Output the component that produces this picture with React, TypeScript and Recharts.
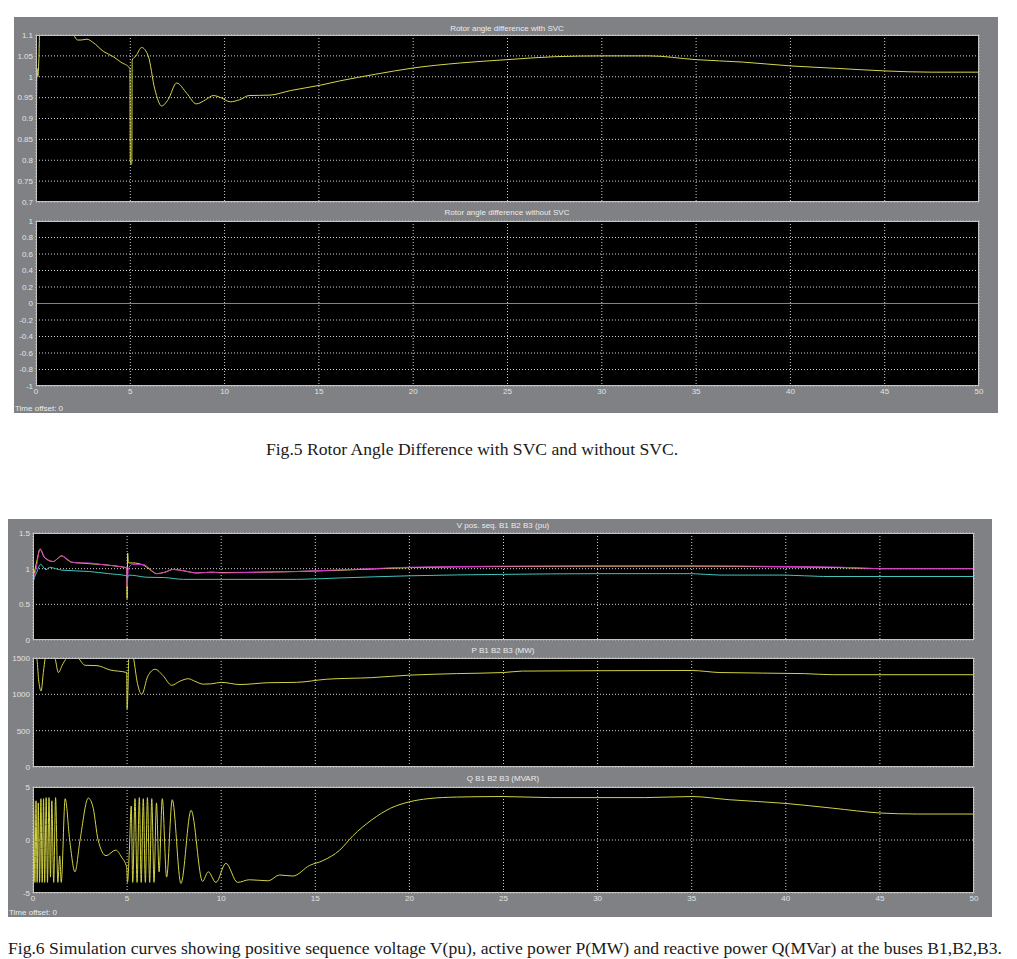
import React from 'react';
import { LineChart, Line, XAxis, YAxis, CartesianGrid } from 'recharts';

// ---------- shared ----------
const timeTicks = [0, 5, 10, 15, 20, 25, 30, 35, 40, 45, 50];

// ---------- Fig.5: rotor angle difference with SVC ----------
const svcT = [0, 0.02, 0.05, 0.1, 0.15, 0.2, 0.6, 1.2, 1.7, 2.0, 2.2, 2.4, 2.7, 3.0, 3.6, 4.1, 4.5, 4.98, 5.0, 5.05, 5.08, 5.1, 5.3, 5.6, 5.95, 6.3, 6.66, 7.0, 7.46, 8.0, 8.5, 9.0, 9.4, 9.8, 10.3, 10.8, 11.3, 12.4, 13.5, 15.1, 16.1, 18, 20, 22.5, 25, 27.5, 30, 32.5, 35, 37.5, 40, 42.5, 45, 47.5, 50];
const svcV = [1.0, 0.91, 1.02, 1.0, 1.04, 1.12, 1.14, 1.13, 1.12, 1.1, 1.088, 1.088, 1.09, 1.083, 1.06, 1.048, 1.035, 1.02, 0.8, 0.79, 0.795, 1.04, 1.05, 1.07, 1.05, 0.97, 0.93, 0.945, 0.985, 0.96, 0.935, 0.945, 0.955, 0.95, 0.94, 0.945, 0.955, 0.956, 0.967, 0.98, 0.99, 1.006, 1.021, 1.033, 1.041, 1.048, 1.05, 1.05, 1.041, 1.035, 1.026, 1.02, 1.014, 1.011, 1.011];
const svcYTicks = [0.7, 0.75, 0.8, 0.85, 0.9, 0.95, 1, 1.05, 1.1];

// ---------- Fig.5: without SVC ----------
const noSvcT = [0, 50];
const noSvcV = [0, 0];
const noSvcYTicks = [-1, -0.8, -0.6, -0.4, -0.2, 0, 0.2, 0.4, 0.6, 0.8, 1];

// ---------- Fig.6: V pos. seq. ----------
const vT = [0, 0.2, 0.37, 0.6, 0.8, 1.08, 1.3, 1.52, 1.8, 2.06, 2.5, 3.0, 3.56, 4.3, 4.98, 5.0, 5.03, 5.06, 5.1, 5.3, 5.86, 6.2, 6.57, 7.0, 7.46, 8.0, 8.7, 9.5, 10, 12, 14, 16, 18, 20, 25, 30, 35, 40, 43, 45, 50];
const vB1 = [0.85, 1.1, 1.27, 1.16, 1.12, 1.1, 1.14, 1.18, 1.13, 1.09, 1.08, 1.07, 1.06, 1.04, 1.01, 0.58, 1.22, 1.1, 1.08, 1.08, 1.05, 0.99, 0.93, 0.95, 0.99, 0.97, 0.94, 0.95, 0.945, 0.95, 0.96, 0.975, 0.995, 1.015, 1.03, 1.035, 1.035, 1.025, 1.015, 1.0, 1.0];
const vB2 = [0.8, 1.05, 1.28, 1.17, 1.12, 1.1, 1.14, 1.18, 1.14, 1.09, 1.08, 1.08, 1.06, 1.04, 1.01, 0.75, 0.85, 0.98, 1.02, 1.06, 1.06, 1.0, 0.93, 0.95, 0.99, 0.97, 0.94, 0.95, 0.94, 0.95, 0.96, 0.98, 1.0, 1.02, 1.035, 1.04, 1.04, 1.03, 1.02, 1.0, 1.0];
const vB3T = [0, 0.01, 0.2, 0.4, 0.69, 0.89, 1.2, 1.5, 3.0, 4.0, 4.98, 5.0, 5.1, 5.5, 6.0, 7.0, 8.0, 10, 14, 16.3, 20, 25, 30, 35, 36.5, 40, 42, 50];
const vB3 = [0, 0.8, 0.95, 1.06, 0.985, 1.02, 1.0, 0.98, 0.96, 0.93, 0.9, 0.87, 0.91, 0.9, 0.88, 0.875, 0.85, 0.85, 0.85, 0.87, 0.9, 0.92, 0.93, 0.93, 0.91, 0.91, 0.89, 0.89];
const vYTicks = [0, 0.5, 1, 1.5];

// ---------- Fig.6: P ----------
const pT = [0, 0.01, 0.1, 0.2, 0.3, 0.43, 0.55, 0.65, 0.8, 1.0, 1.17, 1.35, 1.55, 1.79, 2.1, 2.4, 2.77, 3.4, 4.1, 4.98, 5.0, 5.05, 5.1, 5.25, 5.34, 5.55, 5.78, 6.1, 6.49, 6.9, 7.37, 7.8, 8.25, 8.6, 9.05, 9.5, 10, 11, 12.5, 14, 15.6, 18, 20, 22.5, 25, 26, 30, 35, 36.5, 41, 42.5, 50];
const pV = [0, 1500, 1550, 1500, 1200, 1045, 1300, 1500, 1600, 1600, 1500, 1300, 1400, 1500, 1550, 1500, 1400, 1395, 1335, 1300, 800, 1100, 1600, 1600, 1500, 1150, 1000, 1250, 1345, 1260, 1125, 1180, 1215, 1180, 1140, 1145, 1165, 1135, 1160, 1165, 1208, 1230, 1264, 1285, 1300, 1320, 1325, 1328, 1300, 1285, 1270, 1270];
const pYTicks = [0, 500, 1000, 1500];

// ---------- Fig.6: Q ----------
const qT = [0, 0.03, 0.1, 0.16, 0.22, 0.28, 0.35, 0.42, 0.49, 0.56, 0.62, 0.7, 0.77, 0.85, 0.93, 1.0, 1.1, 1.2, 1.32, 1.42, 1.5, 1.71, 1.95, 2.23, 2.5, 2.94, 3.2, 3.46, 3.88, 4.4, 4.7, 4.98, 5.02, 5.12, 5.22, 5.3, 5.42, 5.53, 5.65, 5.75, 5.86, 5.97, 6.08, 6.2, 6.31, 6.43, 6.56, 6.7, 6.87, 7.1, 7.4, 7.86, 8.4, 9.01, 9.31, 9.72, 10.25, 10.87, 11.5, 12.5, 13.1, 13.8, 14.7, 15.4, 16.3, 17, 18, 19, 20, 21, 22.5, 25, 27.5, 30, 32.5, 35, 37, 40, 42.5, 45, 47, 50];
const qV = [0, 3.8, -4, 3.7, -4, 3.5, -4, 3.9, -4, 3.9, -4, 4, -4, 4, -3.5, 3.7, -4, 4, -4, -1.5, -4, 3.9, 0, -3, 0, 3.96, 3, 0, -1.48, -0.95, -1.6, -2.6, -4, -1, 3.2, -4, 3.9, -4, 4, -4, 3.9, -4, 4, -4, 3.9, -4, 3.5, -3, 3.9, -3.5, 3.8, -4.1, 2.8, -3.9, -3.0, -4, -2.2, -4, -3.75, -3.85, -3.3, -3.4, -2.4, -1.95, -0.95, 0.4, 1.9, 3.0, 3.6, 3.9, 4.05, 4.1, 4.0, 4.0, 4.0, 4.1, 3.8, 3.45, 3.0, 2.55, 2.45, 2.45];
const qYTicks = [-5, 0, 5];

const zip = (ts: number[], vs: number[]) => ts.map((t, i) => ({ t, v: vs[i] }));

const SCOPE_GRAY = '#7f8185';
const TICK_FILL = '#e2e2e2';
const SANS = '"Liberation Sans", Arial, sans-serif';
const SERIF = '"Liberation Serif", "Times New Roman", serif';

type Series = { data: { t: number; v: number }[]; color: string; width?: number };

function Scope(props: {
  left: number; top: number; w: number; h: number; yw: number;
  domain: [number, number]; yTicks: number[]; series: Series[]; showX?: boolean;
}) {
  const { left, top, w, h, yw, domain, yTicks, series, showX } = props;
  const mt = 6;
  const xh = showX ? 14 : 0;
  const mb = showX ? 0 : 6;
  const rp = 12;
  const cw = w + yw + rp;
  const ch = mt + h + xh + mb;
  return (
    <>
      <div style={{ position: 'absolute', left: left - yw, top: top - mt, width: cw, height: ch }}>
        <LineChart width={cw} height={ch} margin={{ top: mt, right: rp, bottom: mb, left: 0 }}>
          <CartesianGrid fill="#000" stroke="#d0d0d0" strokeDasharray="1 2" strokeWidth={1} />
          <XAxis
            type="number" dataKey="t" domain={[0, 50]} ticks={timeTicks}
            allowDataOverflow hide={!showX} height={xh}
            tick={{ fill: TICK_FILL, fontSize: 8, fontFamily: SANS }}
            tickLine={false} axisLine={false} tickMargin={2} tickSize={0}
          />
          <XAxis
            xAxisId="topMarks" orientation="top" mirror type="number" dataKey="t"
            domain={[0, 50]} ticks={timeTicks} tick={false} axisLine={false}
            tickLine={{ stroke: '#ffffff', strokeWidth: 1 }} tickSize={5} height={0}
          />
          <XAxis
            xAxisId="bottomMarks" orientation="bottom" mirror type="number" dataKey="t"
            domain={[0, 50]} ticks={timeTicks} tick={false} axisLine={false}
            tickLine={{ stroke: '#ffffff', strokeWidth: 1 }} tickSize={5} height={0}
          />
          <YAxis
            type="number" domain={domain} ticks={yTicks} allowDataOverflow width={yw}
            tick={{ fill: TICK_FILL, fontSize: 8, fontFamily: SANS }}
            tickLine={false} axisLine={false} tickSize={0} tickMargin={3} interval={0}
          />
          {series.map((s, i) => (
            <Line
              key={i} data={s.data} dataKey="v" type="monotone" stroke={s.color}
              strokeWidth={s.width ?? 1} dot={false} activeDot={false}
              isAnimationActive={false}
            />
          ))}
        </LineChart>
      </div>
      <div style={{
        position: 'absolute', left, top, width: w, height: h,
        boxSizing: 'border-box', border: '1px solid #c4c4c4', pointerEvents: 'none',
      }} />
    </>
  );
}

function Label(props: { x: number; y: number; text: string; center?: boolean; size?: number }) {
  const { x, y, text, center, size } = props;
  return (
    <div style={{
      position: 'absolute', left: center ? x - 200 : x, top: y - 6, width: center ? 400 : 'auto',
      textAlign: center ? 'center' : 'left', color: '#ececec', fontFamily: SANS,
      fontSize: size ?? 8, lineHeight: '12px', whiteSpace: 'nowrap',
    }}>{text}</div>
  );
}

export default function App() {
  const svc = zip(svcT, svcV);
  const noSvc = zip(noSvcT, noSvcV);
  const b1 = zip(vT, vB1);
  const b2 = zip(vT, vB2);
  const b3 = zip(vB3T, vB3);
  const p = zip(pT, pV);
  const q = zip(qT, qV);

  return (
    <div style={{ position: 'absolute', left: 0, top: 0, width: 1017, height: 959, background: '#fff', overflow: 'hidden' }}>
      {/* Fig.5 scope window */}
      <div style={{ position: 'absolute', left: 14, top: 17, width: 984, height: 396, background: SCOPE_GRAY }} />
      <Label x={507} y={29} text="Rotor angle difference with SVC" center />
      <Scope left={36} top={35} w={943} h={167} yw={22} domain={[0.7, 1.1]} yTicks={svcYTicks}
        series={[{ data: svc, color: '#d6d64a' }]} />
      <Label x={507} y={213} text="Rotor angle difference without SVC" center />
      <Scope left={36} top={221} w={943} h={165} yw={22} domain={[-1, 1]} yTicks={noSvcYTicks}
        series={[{ data: noSvc, color: '#8c8c3e' }]} showX />
      <Label x={15} y={409} text="Time offset:  0" />

      <div style={{
        position: 'absolute', left: 0, top: 439, width: 944, textAlign: 'center', lineHeight: '20px',
        fontFamily: SERIF, fontSize: 17.6, color: '#1a1a1a', whiteSpace: 'nowrap',
      }}>Fig.5 Rotor Angle Difference with SVC and without SVC.</div>

      {/* Fig.6 scope window */}
      <div style={{ position: 'absolute', left: 8, top: 519, width: 984, height: 398, background: SCOPE_GRAY }} />
      <Label x={503} y={526} text="V pos. seq.  B1 B2 B3 (pu)" center />
      <Scope left={33} top={533} w={941} h={107} yw={25} domain={[0, 1.5]} yTicks={vYTicks}
        series={[
          { data: b1, color: '#e6e63c' },
          { data: b2, color: '#d030d0' },
          { data: b3, color: '#40c4bc' },
        ]} />
      <Label x={503} y={651} text="P B1 B2 B3 (MW)" center />
      <Scope left={33} top={658} w={941} h={109} yw={25} domain={[0, 1500]} yTicks={pYTicks}
        series={[{ data: p, color: '#d2d244' }]} />
      <Label x={503} y={779} text="Q B1 B2 B3 (MVAR)" center />
      <Scope left={33} top={787} w={941} h={106} yw={25} domain={[-5, 5]} yTicks={qYTicks}
        series={[{ data: q, color: '#d2d244' }]} showX />
      <Label x={9} y={913} text="Time offset:  0" />

      <div style={{
        position: 'absolute', left: 8, top: 938, whiteSpace: 'nowrap', lineHeight: '20px',
        fontFamily: SERIF, fontSize: 17.6, color: '#1a1a1a',
      }}>Fig.6 Simulation curves showing positive sequence voltage V(pu), active power P(MW) and reactive power Q(MVar) at the buses B1,B2,B3.</div>
    </div>
  );
}
